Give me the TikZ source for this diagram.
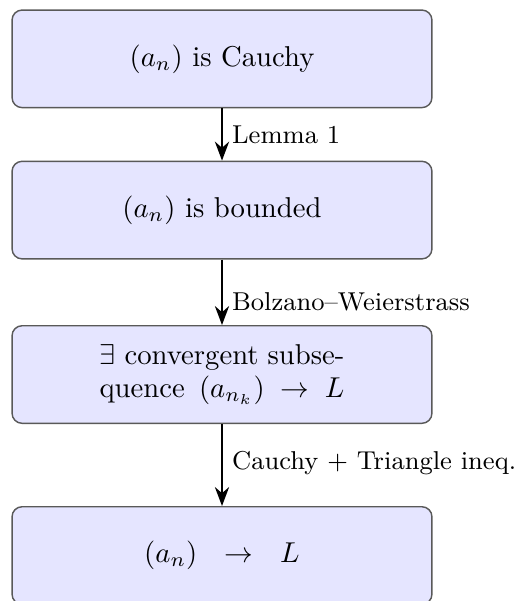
\documentclass[tikz,border=0pt]{standalone}
\usetikzlibrary{arrows.meta}
\begin{document}
\begin{tikzpicture}[x=1pt,y=1pt,
  stepbox/.style={draw=black!65, fill=blue!10, rounded corners=3.5pt,
    minimum width=146.3pt, minimum height=34pt, align=center, inner sep=0pt, line width=0.5pt},
  flow/.style={thick, -{Stealth}},
  lbl/.style={anchor=west, font=\small}]
\useasboundingbox (0,0) rectangle (180.5,-209.4);
\node[stepbox] (b1) at (77.35,-20.5) {$(a_n)$ is Cauchy};
\node[stepbox] (b2) at (77.35,-73.2) {$(a_n)$ is bounded};
\node[stepbox] (b3) at (77.35,-130.49) {\parbox{85.36pt}{\makebox[85.36pt][s]{$\exists$ convergent subse-}\\[-0.5pt]\makebox[85.36pt][s]{quence $(a_{n_k})\to L$}}};
\node[stepbox] (b4) at (77.35,-193.55) {$(a_n)\mkern12mu\to\mkern12mu L$};
\draw[flow] (b1) -- (b2);
\draw[flow] (b2) -- (b3);
\draw[flow] (b3) -- (b4);
\node[lbl] (l1) at (77.35,-47.0) {Lemma 1};
\node[lbl] (l2) at (77.35,-105.2) {Bolzano--Weierstrass};
\node[lbl] (l3) at (77.35,-161.3) {Cauchy $+$ Triangle ineq.};
\end{tikzpicture}
\end{document}
